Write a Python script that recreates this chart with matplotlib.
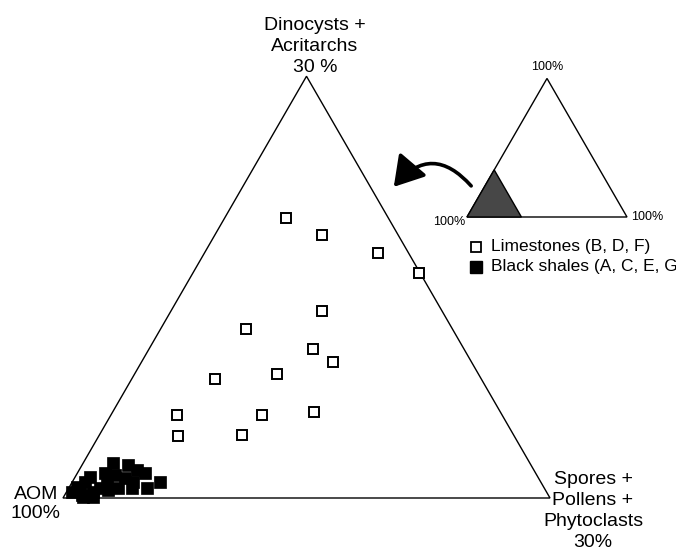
import numpy as np
import matplotlib.pyplot as plt
from matplotlib.patches import Polygon, FancyArrowPatch

plt.rcParams['font.family'] = ['Liberation Sans', 'DejaVu Sans']

# composition, in % (AOM is the remainder); the big triangle spans 0-30 %
lime_dino = [19.9, 18.7, 17.4, 16.0, 13.3, 12.0, 10.6, 9.7, 8.8, 8.5, 5.9, 5.9, 6.1, 4.4, 4.5]
lime_spore = [3.8, 6.6, 10.7, 13.9, 9.3, 5.3, 10.1, 11.8, 8.8, 5.1, 4.1, 9.3, 12.4, 4.9, 8.8]

shale_dino = [2.48, 2.34, 1.99, 1.77, 1.13, 0.71, 0.71, 0.71, 1.13, 1.77, 1.63, 1.42,
              1.13, 1.49, 1.13, 0.78, 0.43, 0.21, 0.05, 0.43, 0.71, 0.57, 0.07, 0.57]
shale_spore = [1.84, 2.83, 3.57, 4.16, 5.41, 4.82, 3.90, 3.04, 2.14, 1.70, 2.38, 3.11,
               3.74, 0.92, 0.79, 0.47, 0.34, 1.06, 1.20, 1.64, 1.93, 2.49, 1.81, 0.77]
full_scale = 30.0
inset_frac = 0.34  # shaded corner of the little triangle

H = np.sqrt(3) / 2


def tern(dino, spore, scale=full_scale):
    d = np.asarray(dino) / scale
    s = np.asarray(spore) / scale
    return s + d / 2, d * H


def px(x, y):
    # figure pixel -> triangle units (left corner at 63,498, side 487 px)
    return (x - 63) / 487, (498 - y) / 487


fig = plt.figure(figsize=(6.76, 5.51), dpi=100)
ax = fig.add_axes([0, 0, 1, 1])
ax.set_xlim(-63 / 487, (676 - 63) / 487)
ax.set_ylim(-(551 - 498) / 487, 498 / 487)
ax.set_aspect('equal')
ax.axis('off')

# main triangle
ax.add_patch(Polygon([(0, 0), (1, 0), (0.5, H)], closed=True, fill=False,
                     lw=1.0, ec='black', zorder=1))

x, y = tern(shale_dino, shale_spore)
ax.plot(x, y, 's', ms=8.4, mfc='black', mec='black', mew=0.5, ls='none', zorder=3)
x, y = tern(lime_dino, lime_spore)
ax.plot(x, y, 's', ms=7.2, mfc='white', mec='black', mew=1.4, ls='none', zorder=3)

big = 14
ax.text(*px(315, 72), 'Dinocysts +\nAcritarchs\n30 %', ha='center', va='baseline',
        fontsize=big, linespacing=1.3)
ax.text(*px(36, 518), 'AOM\n100%', ha='center', va='baseline', fontsize=big, linespacing=1.15)
ax.text(*px(593, 547), 'Spores +\nPollens +\nPhytoclasts\n30%', ha='center', va='baseline',
        fontsize=big, linespacing=1.3)

# inset triangle
ix, iy = px(467, 217)
side = 160 / 487
ax.add_patch(Polygon([(ix, iy), (ix + side, iy), (ix + side / 2, iy + side * H)],
                     closed=True, fill=False, lw=1.0, ec='black'))
f = inset_frac * side
ax.add_patch(Polygon([(ix, iy), (ix + f, iy), (ix + f / 2, iy + f * H)],
                     closed=True, fc='#474747', ec='black', lw=1.0))
small = 9
ax.text(*px(547, 73), '100%', ha='center', va='bottom', fontsize=small)
ax.text(*px(465, 222), '100%', ha='right', va='center', fontsize=small)
ax.text(*px(631, 217), '100%', ha='left', va='center', fontsize=small)

arrow = FancyArrowPatch(px(473, 188), px(392, 189), connectionstyle='arc3,rad=0.6',
                        arrowstyle='-|>,head_length=0.9,head_width=0.55',
                        mutation_scale=20, lw=2.6, color='black')
ax.add_patch(arrow)

# legend (the reference runs off the right edge, kept that way)
ax.plot(*px(476, 247), 's', ms=7.2, mfc='white', mec='black', mew=1.3)
ax.plot(*px(476, 267), 's', ms=8.0, mfc='black', mec='black')
ax.text(*px(491, 247), 'Limestones (B, D, F)', ha='left', va='center', fontsize=12.5)
ax.text(*px(491, 267), 'Black shales (A, C, E, G)', ha='left', va='center', fontsize=12.5,
        clip_on=False)

fig.savefig('out.png', dpi=100)
